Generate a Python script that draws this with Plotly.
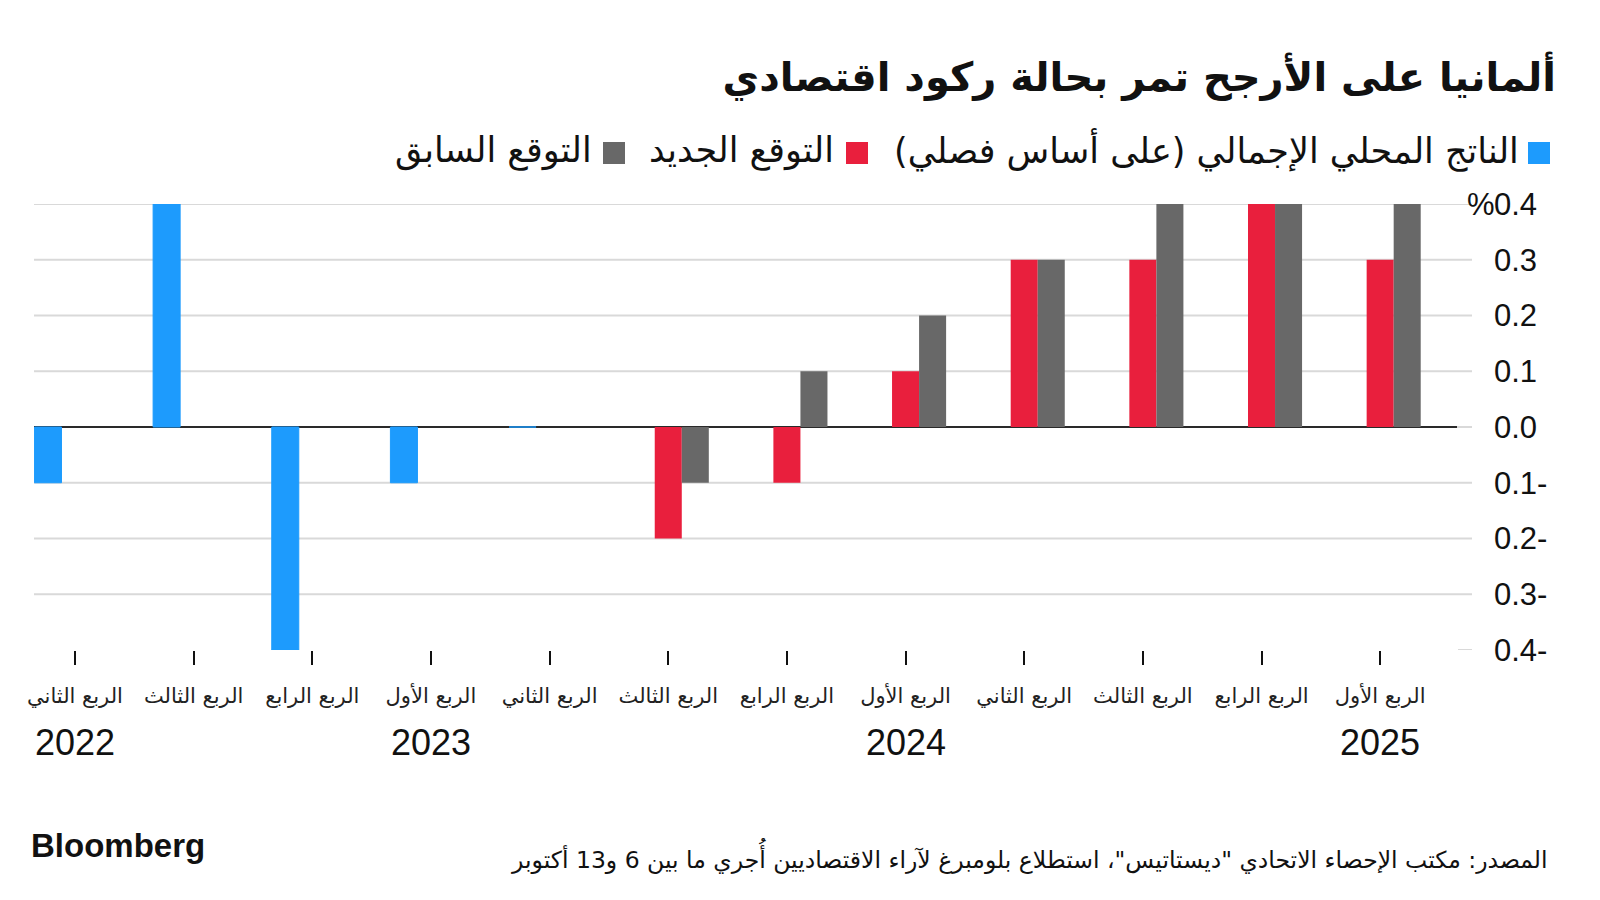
import plotly.graph_objects as go

# ---------------- data ----------------
QUARTERS = ["الربع الثاني", "الربع الثالث", "الربع الرابع", "الربع الأول",
            "الربع الثاني", "الربع الثالث", "الربع الرابع", "الربع الأول",
            "الربع الثاني", "الربع الثالث", "الربع الرابع", "الربع الأول"]
YEAR_LABELS = ["2022", "2023", "2024", "2025"]
YEAR_POS = [0, 3, 7, 11]

GDP = [-0.1, 0.4, -0.4, -0.1, 0.0, None, None, None, None, None, None, None]
NEW_FC = [None, None, None, None, None, -0.2, -0.1, 0.1, 0.3, 0.3, 0.4, 0.3]
PREV_FC = [None, None, None, None, None, -0.1, 0.1, 0.2, 0.3, 0.4, 0.4, 0.4]

Y_TICKS = [-0.4, -0.3, -0.2, -0.1, 0.0, 0.1, 0.2, 0.3, 0.4]
Y_TICKTEXT = ["0.4-", "0.3-", "0.2-", "0.1-", "0.0", "0.1", "0.2", "0.3", "0.4"]

SERIES_NAMES = ["الناتج المحلي الإجمالي (على أساس فصلي)", "التوقع الجديد", "التوقع السابق"]
TITLE = "ألمانيا على الأرجح تمر بحالة ركود اقتصادي"
SOURCE = "المصدر: مكتب الإحصاء الاتحادي \"ديستاتيس\"، استطلاع بلومبرغ لآراء الاقتصاديين أُجري ما بين 6 و13 أكتوبر"

# ---------------- style ----------------
BLUE = "#1d9bfd"
RED = "#e91f3d"
GRAY = "#686868"
AR_FONT = "DejaVu Sans"
NUM_FONT = "Liberation Sans, Arial, sans-serif"

W, H = 1600, 900
OFF = 8  # page body margin offset
# target page pixel positions (reference)
PLOT_L, PLOT_R, PLOT_T, PLOT_B = 34, 1472, 204, 650
L = PLOT_L - OFF
T = PLOT_T - OFF
R = W - (PLOT_R - OFF)
B = H - (PLOT_B - OFF)
PW = PLOT_R - PLOT_L
PH = PLOT_B - PLOT_T


def px(xp):
    return (xp - PLOT_L) / PW


def py(yp):
    return (PLOT_B - yp) / PH


def rtl(s):
    return "\u202B" + s + "\u202C"


x = list(range(len(QUARTERS)))

fig = go.Figure()
fig.add_trace(go.Bar(x=x, y=GDP, name=SERIES_NAMES[0], marker_color=BLUE,
                     marker_line=dict(color=BLUE, width=1)))
fig.add_trace(go.Bar(x=x, y=NEW_FC, name=SERIES_NAMES[1], marker_color=RED,
                     marker_line_width=0))
fig.add_trace(go.Bar(x=x, y=PREV_FC, name=SERIES_NAMES[2], marker_color=GRAY,
                     marker_line_width=0))

shapes = []
# gridlines
for v in Y_TICKS:
    if v == 0:
        shapes.append(dict(type="line", xref="paper", yref="y", x0=px(1457), x1=1, y0=v, y1=v,
                           line=dict(color="#d9d9d9", width=2), layer="below"))
        continue
    x0 = 0 if v != min(Y_TICKS) else px(1458)
    shapes.append(dict(type="line", xref="paper", yref="y", x0=x0, x1=1, y0=v, y1=v,
                       line=dict(color="#d9d9d9", width=2), layer="below"))
# zero line
shapes.append(dict(type="line", xref="paper", yref="y", x0=0, x1=px(1457), y0=0, y1=0,
                   line=dict(color="#2a2a2a", width=2), layer="below"))

annotations = []
# year labels
for pos, lab in zip(YEAR_POS, YEAR_LABELS):
    annotations.append(dict(x=pos, xref="x", y=py(742), yref="paper", text=lab,
                            showarrow=False, xanchor="center", yanchor="middle",
                            font=dict(family=NUM_FONT, size=36, color="#111")))
# % sign on top label
annotations.append(dict(x=px(1497), xref="paper", y=0.4, yref="y", text="%",
                        showarrow=False, xanchor="right", yanchor="middle",
                        font=dict(family=NUM_FONT, size=31, color="#111")))

# legend (manual, RTL)
legend_items = [
    (SERIES_NAMES[0], BLUE, 1528, 1521),
    (SERIES_NAMES[1], RED, 846, 836),
    (SERIES_NAMES[2], GRAY, 603, 594),
]
for name, col, sq_left, txt_right in legend_items:
    shapes.append(dict(type="rect", xref="paper", yref="paper",
                       x0=px(sq_left), x1=px(sq_left + 22), y0=py(164), y1=py(142),
                       fillcolor=col, line=dict(width=0)))
    annotations.append(dict(x=px(txt_right), xref="paper", y=py(150), yref="paper",
                            text=rtl(name), showarrow=False, xanchor="right", yanchor="middle",
                            font=dict(family=AR_FONT, size=35, color="#111")))

# footer
annotations.append(dict(x=px(29), xref="paper", y=py(845), yref="paper", text="<b>Bloomberg</b>",
                        showarrow=False, xanchor="left", yanchor="middle",
                        font=dict(family=NUM_FONT, size=33, color="#111")))
annotations.append(dict(x=px(1550), xref="paper", y=py(855), yref="paper", text=rtl(SOURCE),
                        showarrow=False, xanchor="right", yanchor="middle",
                        font=dict(family=AR_FONT, size=23.5, color="#111")))

fig.update_layout(
    width=W, height=H,
    margin=dict(l=L, r=R, t=T, b=B),
    paper_bgcolor="white", plot_bgcolor="white",
    barmode="group", bargap=0.3165, bargroupgap=0,
    showlegend=False,
    title=dict(text="<b>" + TITLE + "</b>", x=(1556 - OFF) / W, xanchor="right",
               y=1 - (77 - OFF) / H, yanchor="middle", xref="container", yref="container",
               font=dict(family=AR_FONT, size=40, color="#111")),
    shapes=shapes,
    annotations=annotations,
)

fig.update_xaxes(
    range=[-0.3456, 11.774], tickmode="array", tickvals=x, ticktext=QUARTERS,
    ticks="outside", ticklen=14, tickwidth=2, tickcolor="#111",
    showgrid=False, zeroline=False, showline=False, automargin=False,
    ticklabelstandoff=13,
    tickfont=dict(family=AR_FONT, size=21, color="#222"),
)
fig.update_yaxes(
    range=[-0.4, 0.4], side="right", tickmode="array", tickvals=Y_TICKS, ticktext=Y_TICKTEXT,
    ticks="", showgrid=False, zeroline=False, showline=False, automargin=False,
    ticklabelstandoff=21,
    tickfont=dict(family=NUM_FONT, size=31, color="#111"),
)

fig.write_html("out.html")
